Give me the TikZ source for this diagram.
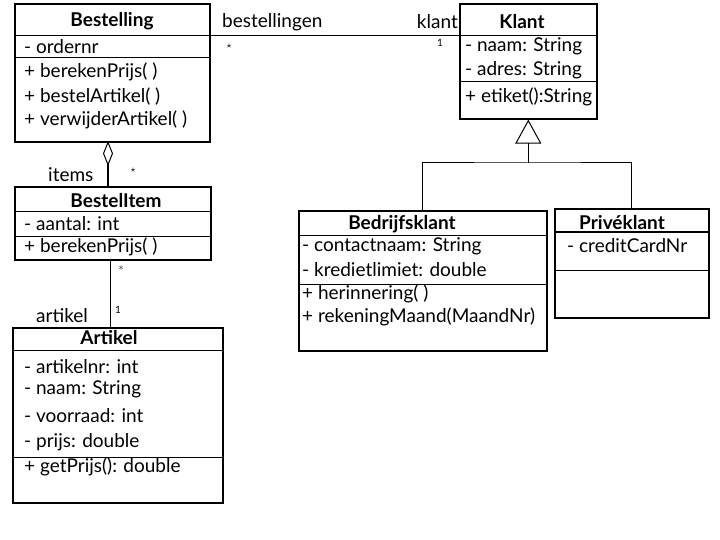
\documentclass[tikz,border=0pt]{standalone}
\usepackage{fontspec}
\setmainfont{Lato}
\usetikzlibrary{arrows.meta}
\begin{document}
\begin{tikzpicture}[x=1pt,y=-1pt,
  box/.style={draw,line width=1.6pt,anchor=north west,inner sep=0pt},
  sep/.style={line width=1pt},
  txt/.style={anchor=west,inner sep=0pt,font=\fontsize{19}{21}\selectfont},
  ttl/.style={inner sep=0pt,font=\fontsize{19}{21}\selectfont\bfseries},
  lbl/.style={inner sep=0pt,font=\fontsize{19}{21}\selectfont},
  mult/.style={inner sep=0pt,font=\fontsize{10}{11}\selectfont},
  conn/.style={line width=1pt}]
\useasboundingbox (0,0) rectangle (720,540);
% Bestelling
\node[box,minimum width=195pt,minimum height=138pt] (bestelling) at (14,3) {};
\draw[sep] (bestelling.west |- 0,36) -- (bestelling.east |- 0,36);
\draw[sep] (bestelling.west |- 0,58) -- (bestelling.east |- 0,58);
\node[ttl] (t1) at (112,21) {Bestelling};
\node[txt] (b1) at (24,47) {- ordernr};
\node[txt] (b2) at (24,72) {+ berekenPrijs( )};
\node[txt] (b3) at (24,97) {+ bestelArtikel( )};
\node[txt] (b4) at (24,120) {+ verwijderArtikel( )};
% Klant
\node[box,minimum width=137pt,minimum height=115pt] (klant) at (459,3) {};
\draw[sep] (klant.west |- 0,36) -- (klant.east |- 0,36);
\draw[sep] (klant.west |- 0,82) -- (klant.east |- 0,82);
\node[ttl] (t2) at (522,22) {Klant};
\node[txt] (k1) at (465,46) {- naam: String};
\node[txt] (k2) at (465,70) {- adres: String};
\node[txt] (k3) at (465,97) {+ etiket():String};
% Bedrijfsklant
\node[box,minimum width=248pt,minimum height=140pt] (bedrijf) at (298,210) {};
\draw[sep] (bedrijf.west |- 0,235) -- (bedrijf.east |- 0,235);
\draw[sep] (bedrijf.west |- 0,284) -- (bedrijf.east |- 0,284);
\node[ttl] (t3) at (402,224) {Bedrijfsklant};
\node[txt] (d1) at (302,246) {- contactnaam: String};
\node[txt] (d2) at (302,270) {- kredietlimiet: double};
\node[txt] (d3) at (302,294) {+ herinnering( )};
\node[txt] (d4) at (302,317) {+ rekeningMaand(MaandNr)};
% Priveklant
\node[box,minimum width=154pt,minimum height=109pt] (prive) at (554,208) {};
\draw[sep] (prive.west |- 0,232) -- (prive.east |- 0,232);
\draw[sep] (prive.west |- 0,270) -- (prive.east |- 0,270);
\node[ttl] (t4) at (622,223) {Privéklant};
\node[txt] (p1) at (567,246) {- creditCardNr};
% BestelItem
\node[box,minimum width=196pt,minimum height=73pt] (item) at (14,186) {};
\draw[sep] (item.west |- 0,212) -- (item.east |- 0,212);
\draw[sep] (item.west |- 0,236) -- (item.east |- 0,236);
\node[ttl] (t5) at (116,201) {BestelItem};
\node[txt] (i1) at (24,224) {- aantal: int};
\node[txt] (i2) at (24,247) {+ berekenPrijs( )};
% Artikel
\node[box,minimum width=210pt,minimum height=175pt] (artikel) at (12,327) {};
\draw[sep] (artikel.west |- 0,350) -- (artikel.east |- 0,350);
\draw[sep] (artikel.west |- 0,457) -- (artikel.east |- 0,457);
\node[ttl] (t6) at (109,338) {Artikel};
\node[txt] (a1) at (24,367) {- artikelnr: int};
\node[txt] (a2) at (24,389) {- naam: String};
\node[txt] (a3) at (24,416) {- voorraad: int};
\node[txt] (a4) at (24,442) {- prijs: double};
\node[txt] (a5) at (24,467) {+ getPrijs(): double};
% association Bestelling - Klant
\coordinate (as1) at (bestelling.east |- 0,36);
\coordinate (as2) at (klant.west |- 0,36);
\draw[conn] (as1) -- (as2);
\node[lbl,anchor=west] (l1) at (222,22) {bestellingen};
\node[mult] (m1) at (229,46) {$\star$};
\node[lbl,anchor=east] (l2) at (458,22) {klant};
\node[mult] (m2) at (440,43) {1};
% generalization
\coordinate (gen) at (klant.south |- 0,163);
\draw[conn] (bedrijf.north) |- (gen) -| (prive.north);
\draw[line width=1.6pt,-{Triangle[open,length=24pt,width=26pt,line width=1pt]}] (gen) -- (klant.south);
% aggregation
\coordinate (ag1) at (108,141);
\coordinate (ag2) at (ag1 |- item.north);
\draw[line width=1.6pt,{Diamond[open,length=25pt,width=10pt,line width=1pt]}-] (ag1) -- (ag2);
\node[lbl,anchor=west] (l3) at (48,175) {items};
\node[mult] (m3) at (133,170) {$\star$};
% BestelItem - Artikel
\coordinate (ar1) at (110,259);
\coordinate (ar2) at (ar1 |- artikel.north);
\draw[conn] (ar1) -- (ar2);
\node[mult] (m4) at (121,268) {$\ast$};
\node[lbl,anchor=west] (l4) at (36,316) {artikel};
\node[mult] (m5) at (118,310) {1};
\end{tikzpicture}
\end{document}
